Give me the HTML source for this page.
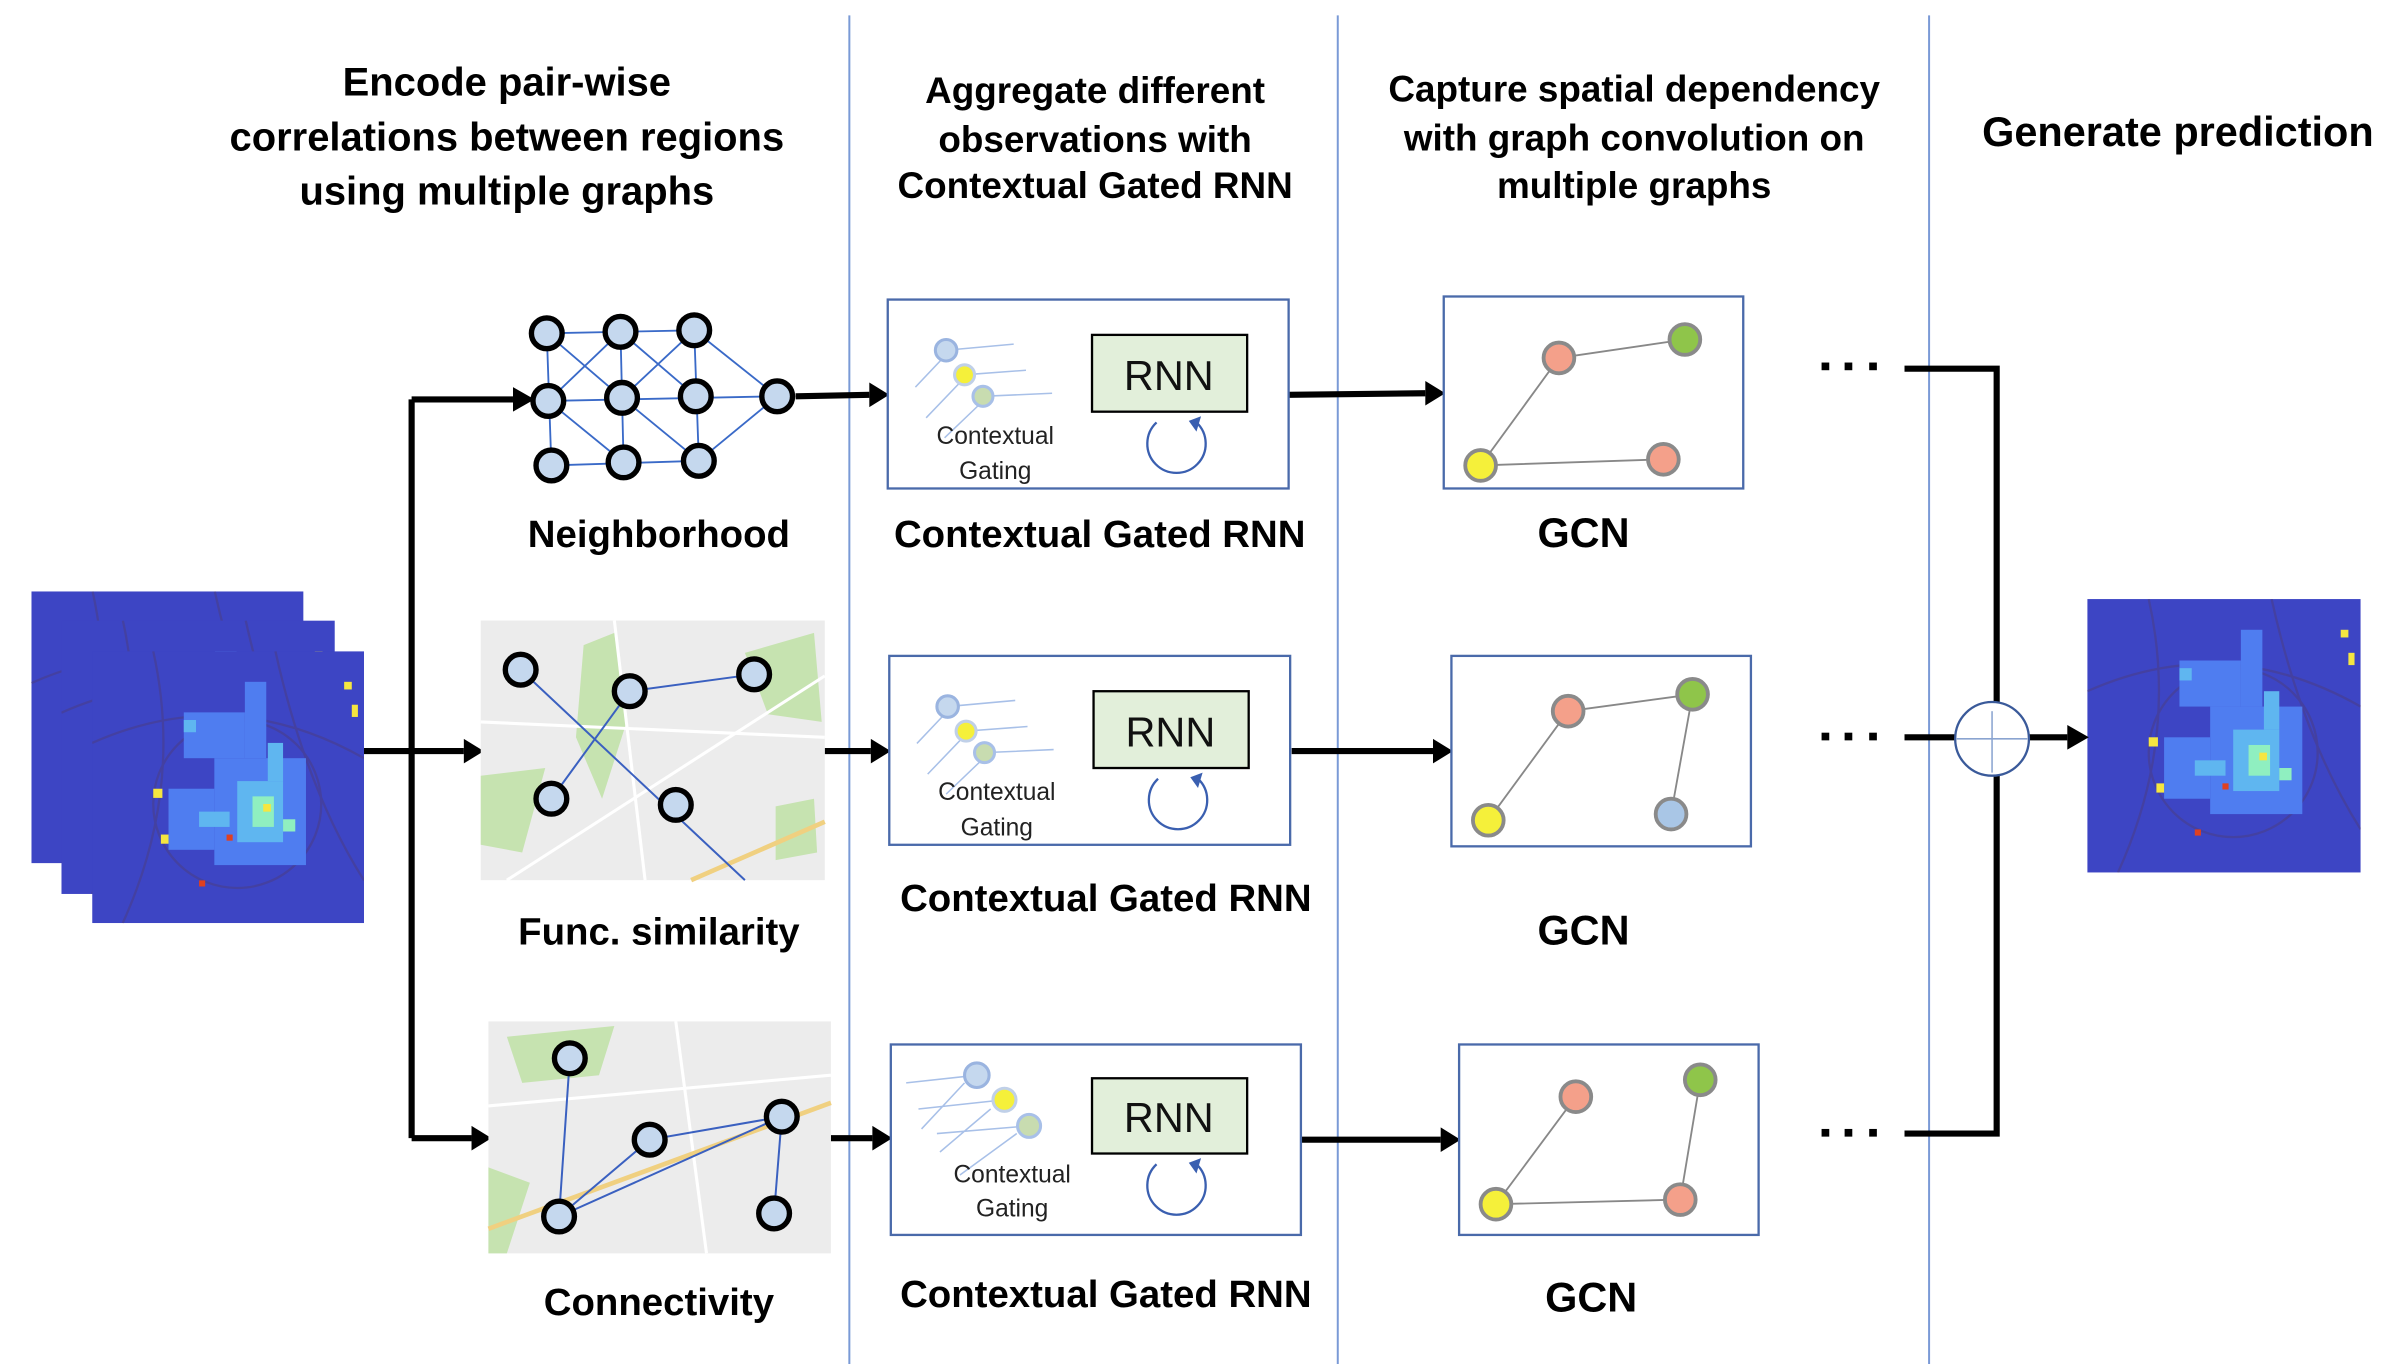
<!DOCTYPE html>
<html><head><meta charset="utf-8"><style>
html,body{margin:0;padding:0;background:#fff;}
svg{display:block;}
text{font-family:"Liberation Sans","DejaVu Sans",sans-serif;}
</style></head><body>
<svg width="2396" height="1364" viewBox="0 0 1560 888" xmlns="http://www.w3.org/2000/svg">
<defs>
<symbol id="heat" viewBox="0 0 178 178">
<rect width="178" height="178" fill="#3d45c4"/>
<g stroke="#4a3f8a" stroke-width="1.5" fill="none" opacity="0.6">
<path d="M0,60 Q90,20 178,70"/><path d="M20,178 Q60,90 40,0"/><path d="M120,0 Q140,90 178,150"/><circle cx="95" cy="100" r="55"/>
</g>
<g fill="#4f7df0">
<rect x="60" y="40" width="40" height="30"/><rect x="80" y="70" width="60" height="70"/><rect x="50" y="90" width="30" height="40"/><rect x="100" y="20" width="14" height="50"/>
</g>
<g fill="#5fb6f0">
<rect x="95" y="85" width="30" height="40"/><rect x="70" y="105" width="20" height="10"/><rect x="115" y="60" width="10" height="25"/><rect x="60" y="45" width="8" height="8"/>
</g>
<g fill="#8fefc0"><rect x="105" y="95" width="14" height="20"/><rect x="125" y="110" width="8" height="8"/></g>
<g fill="#f5e640"><rect x="40" y="90" width="6" height="6"/><rect x="45" y="120" width="5" height="6"/><rect x="165" y="20" width="5" height="5"/><rect x="170" y="35" width="4" height="8"/><rect x="112" y="100" width="5" height="5"/></g>
<g fill="#e04020"><rect x="88" y="120" width="4" height="4"/><rect x="70" y="150" width="4" height="4"/></g>
</symbol>
</defs>

<g stroke="#7a9ad6" stroke-width="1.3">
<line x1="553" y1="10" x2="553" y2="888"/><line x1="871" y1="10" x2="871" y2="888"/><line x1="1256" y1="10" x2="1256" y2="888"/>
</g>

<g font-weight="bold" font-size="26" text-anchor="middle" fill="#000">
<text x="330" y="62">Encode pair-wise</text>
<text x="330" y="98">correlations between regions</text>
<text x="330" y="133">using multiple graphs</text>
<text x="713" y="67" font-size="24">Aggregate different</text>
<text x="713" y="99" font-size="24">observations with</text>
<text x="713" y="129" font-size="24">Contextual Gated RNN</text>
<text x="1064" y="66" font-size="24">Capture spatial dependency</text>
<text x="1064" y="98" font-size="24">with graph convolution on</text>
<text x="1064" y="129" font-size="24">multiple graphs</text>
<text x="1418" y="95" font-size="27">Generate prediction</text>
</g>

<use href="#heat" x="20" y="385" width="178" height="177"/>
<use href="#heat" x="40" y="404" width="178" height="178"/>
<use href="#heat" x="60" y="424" width="177" height="177"/>
<use href="#heat" x="1359" y="390" width="178" height="178"/>

<g stroke="#000" stroke-width="4" fill="none">
<line x1="237" y1="489" x2="268" y2="489"/>
<line x1="268" y1="260" x2="268" y2="741"/>
<line x1="268" y1="260" x2="334" y2="260"/>
<line x1="268" y1="489" x2="302" y2="489"/>
<line x1="268" y1="741" x2="307" y2="741"/>
<line x1="518" y1="258" x2="566" y2="257"/>
<line x1="537" y1="489" x2="567" y2="489"/>
<line x1="541" y1="741" x2="568" y2="741"/>
<line x1="839" y1="257" x2="928" y2="256"/>
<line x1="841" y1="489" x2="933" y2="489"/>
<line x1="847" y1="742" x2="938" y2="742"/>
<path d="M1240,240 H1300 V457"/>
<path d="M1240,738 H1300 V505"/>
<line x1="1240" y1="480" x2="1273" y2="480"/>
<line x1="1321" y1="480" x2="1346" y2="480"/>
</g>
<g fill="#000">
<path d="M334,252 L348,260 L334,268 z"/>
<path d="M302,481 L315,489 L302,497 z"/>
<path d="M307,733 L320,741 L307,749 z"/>
<path d="M566,249 L579,257 L566,265 z"/>
<path d="M567,481 L580,489 L567,497 z"/>
<path d="M568,733 L581,741 L568,749 z"/>
<path d="M928,248 L941,256 L928,264 z"/>
<path d="M933,481 L946,489 L933,497 z"/>
<path d="M938,734 L951,742 L938,750 z"/>
<path d="M1346,472 L1360,480 L1346,488 z"/>
</g>
<circle cx="1297" cy="481" r="24" fill="#fff" stroke="#3a5a9a" stroke-width="1.5"/>
<g stroke="#8aa4d0" stroke-width="1"><line x1="1274" y1="481" x2="1320" y2="481"/><line x1="1297" y1="463" x2="1297" y2="503"/></g>
<g fill="#000">
<rect x="1186" y="236" width="5" height="5"/><rect x="1201" y="236" width="5" height="5"/><rect x="1217" y="236" width="5" height="5"/>
<rect x="1186" y="477" width="5" height="5"/><rect x="1201" y="477" width="5" height="5"/><rect x="1217" y="477" width="5" height="5"/>
<rect x="1186" y="735" width="5" height="5"/><rect x="1201" y="735" width="5" height="5"/><rect x="1217" y="735" width="5" height="5"/>
</g>

<g stroke="#3a6ac8" stroke-width="1.2" fill="none">
<path d="M356,217 L452,215 M357,261 L506,258 M359,303 L455,300 M356,217 L359,303 M404,216 L406,301 M452,215 L455,300 M356,217 L405,259 M404,216 L357,261 M404,216 L453,258 M452,215 L405,259 M357,261 L406,301 M405,259 L455,300 M452,215 L506,258 M455,300 L506,258"/>
</g>
<g fill="#c5d8ee" stroke="#000" stroke-width="3.5">
<circle cx="356" cy="217" r="10"/><circle cx="404" cy="216" r="10"/><circle cx="452" cy="215" r="10"/>
<circle cx="357" cy="261" r="10"/><circle cx="405" cy="259" r="10"/><circle cx="453" cy="258" r="10"/><circle cx="506" cy="258" r="10"/>
<circle cx="359" cy="303" r="10"/><circle cx="406" cy="301" r="10"/><circle cx="455" cy="300" r="10"/>
</g>

<rect x="313" y="404" width="224" height="169" fill="#ececec"/>
<g fill="#c6e3b0"><path d="M380,420 L400,412 L408,470 L392,520 L375,480 z"/><path d="M485,425 L530,412 L535,470 L500,465 z"/><path d="M313,505 L355,500 L340,555 L313,550 z"/><path d="M505,525 L530,520 L532,555 L505,560 z"/></g>
<g stroke="#fff" stroke-width="2" fill="none"><path d="M313,470 L537,480"/><path d="M400,404 L420,573"/><path d="M330,573 L537,440"/></g>
<path d="M450,573 L537,535" stroke="#f0d080" stroke-width="3" fill="none"/>
<g stroke="#3a60c0" stroke-width="1.3" fill="none"><path d="M339,436 L485,573 M410,450 L359,520 M410,450 L491,439"/></g>
<g fill="#c5d8ee" stroke="#000" stroke-width="3.5">
<circle cx="339" cy="436" r="10"/><circle cx="410" cy="450" r="10"/><circle cx="491" cy="439" r="10"/><circle cx="359" cy="520" r="10"/><circle cx="440" cy="524" r="10"/>
</g>

<rect x="318" y="665" width="223" height="151" fill="#ececec"/>
<g fill="#c6e3b0"><path d="M330,675 L400,668 L390,700 L340,705 z"/><path d="M318,760 L345,770 L330,816 L318,816 z"/></g>
<g stroke="#fff" stroke-width="2" fill="none"><path d="M318,720 L541,700"/><path d="M440,665 L460,816"/></g>
<path d="M318,800 L541,718" stroke="#f0d080" stroke-width="3" fill="none"/>
<g stroke="#3a60c0" stroke-width="1.3" fill="none"><path d="M371,689 L364,792 M364,792 L509,727 M364,792 L423,742 L509,727 M509,727 L504,790"/></g>
<g fill="#c5d8ee" stroke="#000" stroke-width="3.5">
<circle cx="371" cy="689" r="10"/><circle cx="423" cy="742" r="10"/><circle cx="509" cy="727" r="10"/><circle cx="364" cy="792" r="10"/><circle cx="504" cy="790" r="10"/>
</g>

<g font-weight="bold" font-size="25" text-anchor="middle">
<text x="429" y="356">Neighborhood</text>
<text x="429" y="615">Func. similarity</text>
<text x="429" y="856">Connectivity</text>
<text x="716" y="356">Contextual Gated RNN</text>
<text x="720" y="593">Contextual Gated RNN</text>
<text x="720" y="851">Contextual Gated RNN</text>
<text x="1031" y="356" font-size="27">GCN</text>
<text x="1031" y="615" font-size="27">GCN</text>
<text x="1036" y="854" font-size="27">GCN</text>
</g>

<g id="cg1">
<rect x="578" y="195" width="261" height="123" fill="#fff" stroke="#4a6aaa" stroke-width="1.5"/>
<g stroke="#a8c0e8" stroke-width="1" fill="none"><path d="M616,228 L660,224 M628,244 L668,241 M640,258 L685,256 M614,233 L596,252 M626,248 L603,272 M638,263 L615,285"/></g>
<circle cx="616" cy="228" r="7" fill="#c5d8ee" stroke="#9ab4e0" stroke-width="2"/>
<circle cx="628" cy="244" r="6.5" fill="#f5f03a" stroke="#c0d0e8" stroke-width="2"/>
<circle cx="640" cy="258" r="6.5" fill="#c8dcb0" stroke="#a8c0e8" stroke-width="2"/>
<text x="648" y="289" font-size="16" text-anchor="middle" fill="#222">Contextual</text>
<text x="648" y="312" font-size="16" text-anchor="middle" fill="#222">Gating</text>
<rect x="711" y="218" width="101" height="50" fill="#e2efda" stroke="#000" stroke-width="1.5"/>
<text x="761" y="254" font-size="27" text-anchor="middle" fill="#111">RNN</text>
<path d="M753,275 A19,19 0 1 0 779,275" fill="none" stroke="#3a5fb0" stroke-width="1.5"/>
<path d="M774,274 L782,271 L779,281 z" fill="#3a5fb0"/>
</g>
<use href="#cg1" x="1" y="232"/>
<g>
<rect x="580" y="680" width="267" height="124" fill="#fff" stroke="#4a6aaa" stroke-width="1.5"/>
<g stroke="#a8c0e8" stroke-width="1" fill="none"><path d="M636,700 L590,705 M654,716 L598,722 M670,733 L610,738 M628,705 L600,735 M645,722 L612,750 M662,738 L625,765"/></g>
<circle cx="636" cy="700" r="8" fill="#c5d8ee" stroke="#9ab4e0" stroke-width="2"/>
<circle cx="654" cy="716" r="7.5" fill="#f5f03a" stroke="#c0d0e8" stroke-width="2"/>
<circle cx="670" cy="733" r="7.5" fill="#c8dcb0" stroke="#a8c0e8" stroke-width="2"/>
<text x="659" y="770" font-size="16" text-anchor="middle" fill="#222">Contextual</text>
<text x="659" y="792" font-size="16" text-anchor="middle" fill="#222">Gating</text>
<rect x="711" y="702" width="101" height="49" fill="#e2efda" stroke="#000" stroke-width="1.5"/>
<text x="761" y="737" font-size="27" text-anchor="middle" fill="#111">RNN</text>
<path d="M753,758 A19,19 0 1 0 779,758" fill="none" stroke="#3a5fb0" stroke-width="1.5"/>
<path d="M774,757 L782,754 L779,764 z" fill="#3a5fb0"/>
</g>

<g stroke="#4a6aaa" stroke-width="1.5" fill="#fff">
<rect x="940" y="193" width="195" height="125"/><rect x="945" y="427" width="195" height="124"/><rect x="950" y="680" width="195" height="124"/>
</g>
<g stroke="#888" stroke-width="1.2" fill="none">
<path d="M1015,233 L1097,221 M1015,233 L964,303 M964,303 L1083,299"/>
<path d="M1021,463 L1102,452 M1021,463 L969,534 M1102,452 L1088,530"/>
<path d="M1026,714 L974,784 M974,784 L1094,781 M1107,703 L1094,781"/>
</g>
<g stroke="#8a8a8a" stroke-width="2.5">
<circle cx="1015" cy="233" r="10" fill="#f4a08a"/><circle cx="1097" cy="221" r="10" fill="#8fc54a"/><circle cx="964" cy="303" r="10" fill="#f5f03a"/><circle cx="1083" cy="299" r="10" fill="#f4a08a"/>
<circle cx="1021" cy="463" r="10" fill="#f4a08a"/><circle cx="1102" cy="452" r="10" fill="#8fc54a"/><circle cx="969" cy="534" r="10" fill="#f5f03a"/><circle cx="1088" cy="530" r="10" fill="#a9c6e6"/>
<circle cx="1026" cy="714" r="10" fill="#f4a08a"/><circle cx="1107" cy="703" r="10" fill="#8fc54a"/><circle cx="974" cy="784" r="10" fill="#f5f03a"/><circle cx="1094" cy="781" r="10" fill="#f4a08a"/>
</g>
</svg>
</body></html>
